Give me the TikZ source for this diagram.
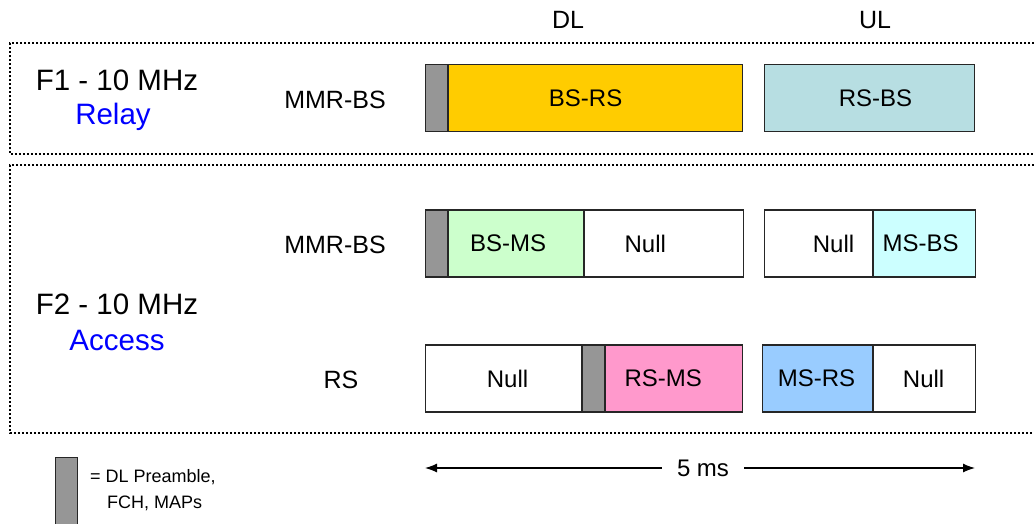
\documentclass[tikz,border=0pt]{standalone}
\usepackage{fontspec}
\setmainfont{Liberation Sans}
\usetikzlibrary{arrows.meta}
\definecolor{preamb}{HTML}{969696}
\definecolor{cyellow}{HTML}{FFCC00}
\definecolor{cteal}{HTML}{B7DEE2}
\definecolor{cgreen}{HTML}{CCFFCC}
\definecolor{ccyan}{HTML}{CCFFFF}
\definecolor{cpink}{HTML}{FF99CC}
\definecolor{cblue}{HTML}{99CCFF}
\definecolor{relayblue}{HTML}{0000FF}
\begin{document}
\begin{tikzpicture}[x=1pt,y=-1pt,
  slot/.style={draw=black!85, line width=1.1pt, inner sep=0pt, anchor=west,
    minimum height=67pt},
  txt/.style={font=\fontsize{24}{27}\selectfont, inner sep=0pt},
  lbl/.style={font=\fontsize{25}{28}\selectfont, inner sep=0pt, anchor=base},
  big/.style={font=\fontsize{29.5}{32}\selectfont, inner sep=0pt, anchor=base},
  zone/.style={line width=2.6pt, dash pattern=on 2.2pt off 1.8pt},
  legend/.style={font=\fontsize{18}{21}\selectfont, inner sep=0pt, anchor=base west}]
\useasboundingbox (0,0) rectangle (1034,523);

% column headings
\node[lbl] (dl) at (568,28) {DL};
\node[lbl] (ul) at (875,28) {UL};

% dotted frequency zones
\draw[zone] (1034,43) -- (10,43) -- (10,154) -- (1034,154);
\draw[zone] (1034,165) -- (10,165) -- (10,433) -- (1034,433);

% zone titles
\node[big] (f1) at (117,90) {F1 - 10 MHz};
\node[big, text=relayblue] (relay) at (113,124) {Relay};
\node[big] (f2) at (117,314) {F2 - 10 MHz};
\node[big, text=relayblue] (access) at (117,350) {Access};

% station labels
\node[lbl] (st1) at (335,108) {MMR-BS};
\node[lbl] (st2) at (335,253) {MMR-BS};
\node[lbl] (st3) at (341,388) {RS};

% F1: MMR-BS frame
\node[slot, fill=preamb, minimum width=22pt] (p1) at (425,98) {};
\node[slot, fill=cyellow, minimum width=294pt,
  label={[txt,xshift=-10pt]center:BS-RS}] (bsrs) at (p1.east) {};
\node[slot, fill=cteal, minimum width=210pt,
  label={[txt,xshift=6pt]center:RS-BS}] (rsbs) at (764,98) {};

% F2: MMR-BS frame
\node[slot, fill=preamb, minimum width=22pt] (p2) at (425,243.5) {};
\node[slot, fill=cgreen, minimum width=135pt,
  label={[txt,xshift=-8pt]center:BS-MS}] (bsms) at (p2.east) {};
\node[slot, fill=white, minimum width=159pt,
  label={[txt,xshift=-19pt]center:Null}] (null1) at (bsms.east) {};
\node[slot, fill=white, minimum width=108pt,
  label={[txt,xshift=15pt]center:Null}] (null2) at (764,243.5) {};
\node[slot, fill=ccyan, minimum width=102pt,
  label={[txt,xshift=-4pt]center:MS-BS}] (msbs) at (null2.east) {};

% F2: RS frame
\node[slot, fill=white, minimum width=156pt,
  label={[txt,xshift=4pt]center:Null}] (null3) at (425,378.5) {};
\node[slot, fill=preamb, minimum width=22pt] (p3) at (null3.east) {};
\node[slot, fill=cpink, minimum width=137pt,
  label={[txt,xshift=-11pt]center:RS-MS}] (rsms) at (p3.east) {};
\node[slot, fill=cblue, minimum width=110pt,
  label={[txt,xshift=-1pt]center:MS-RS}] (msrs) at (762,378.5) {};
\node[slot, fill=white, minimum width=102pt,
  label={[txt,xshift=-1pt]center:Null}] (null4) at (msrs.east) {};

% frame duration
\coordinate (tl) at (425,468);
\coordinate (tr) at (975,468);
\node[txt, inner xsep=15pt] (dur) at (703,468) {5 ms};
\draw[line width=1.2pt, -{Latex[length=12pt,width=9pt]}] (dur.west) -- (tl);
\draw[line width=1.2pt, -{Latex[length=12pt,width=9pt]}] (dur.east) -- (tr);

% legend
\node[draw=black!85, line width=1.1pt, fill=preamb, inner sep=0pt,
  minimum width=22pt, minimum height=70pt, anchor=north west] (key) at (55,457) {};
\node[legend] (k1) at (90,482) {= DL Preamble,};
\node[legend] (k2) at (107,508) {FCH, MAPs};
\end{tikzpicture}
\end{document}
